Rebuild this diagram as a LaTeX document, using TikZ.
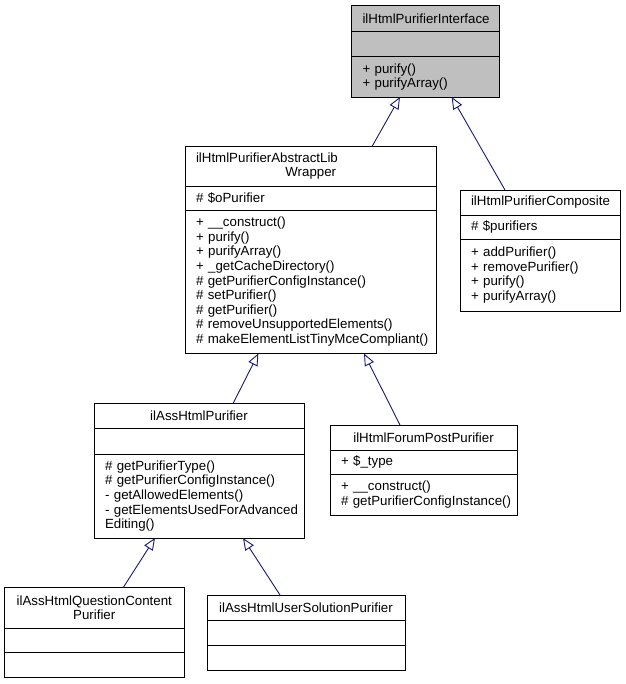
\documentclass[tikz,border=0pt]{standalone}
\usepackage{fontspec}
\setmainfont{Liberation Sans}
\usetikzlibrary{positioning,arrows.meta}
\definecolor{edgeblue}{HTML}{191970}
\definecolor{ifacegray}{HTML}{BFBFBF}
\newcommand{\umlfont}{\fontsize{13.3bp}{14.6bp}\selectfont\hyphenpenalty=10000 \exhyphenpenalty=10000 }
\tikzset{
  umlpart/.style={draw=black, line width=1bp, inner xsep=11bp, inner ysep=0bp,
    outer sep=0pt, text width=#1, align=left, font=\umlfont},
  umlhead/.style={umlpart=#1, align=center},
  inherit/.style={draw=edgeblue, line width=0.9bp,
    -{Triangle[open, length=12bp, width=10bp]}},
}
\begin{document}
\begin{tikzpicture}[x=1bp, y=-1bp, node distance=0pt]
\useasboundingbox (0,0) rectangle (626,684);

% interface
\node[umlhead=126bp, minimum height=25.5bp, fill=ifacegray, anchor=north] (iface-t) at (425.5,6) {ilHtmlPurifierInterface};
\node[umlpart=126bp, minimum height=25.5bp, fill=ifacegray, below=of iface-t] (iface-a) {};
\node[umlpart=126bp, minimum height=40bp, fill=ifacegray, below=of iface-a] (iface-m) {+ purify()\\+ purifyArray()};

% abstract lib wrapper
\node[umlpart=229.5bp, minimum height=39.5bp, anchor=north] (abslib-t) at (310.75,146.5) {ilHtmlPurifierAbstractLib\\\makebox[\linewidth]{Wrapper}};
\node[umlpart=229.5bp, minimum height=24bp, below=of abslib-t] (abslib-a) {\# \$oPurifier};
\node[umlpart=229.5bp, minimum height=143.5bp, below=of abslib-a] (abslib-m) {+ \_\_construct()\\+ purify()\\+ purifyArray()\\+ \_getCacheDirectory()\\\mbox{\# getPurifierConfigInstance()}\\\# setPurifier()\\\# getPurifier()\\\mbox{\# removeUnsupportedElements()}\\\mbox{\# makeElementListTinyMceCompliant()}};

% composite
\node[umlhead=138bp, minimum height=25bp, anchor=north] (comp-t) at (540,190) {ilHtmlPurifierComposite};
\node[umlpart=138bp, minimum height=24bp, below=of comp-t] (comp-a) {\# \$purifiers};
\node[umlpart=138bp, minimum height=72bp, below=of comp-a] (comp-m) {+ addPurifier()\\\mbox{+ removePurifier()}\\+ purify()\\+ purifyArray()};

% ass html purifier
\node[umlhead=188bp, minimum height=25bp, anchor=north] (ass-t) at (199,403) {ilAssHtmlPurifier};
\node[umlpart=188bp, minimum height=26bp, below=of ass-t] (ass-a) {};
\node[umlpart=188bp, minimum height=84bp, below=of ass-a] (ass-m) {\# getPurifierType()\\\mbox{\# getPurifierConfigInstance()}\\\mbox{- getAllowedElements()}\\\mbox{- getElementsUsedForAdvanced}\\Editing()};

% forum post purifier
\node[umlhead=165bp, minimum height=25bp, anchor=north] (forum-t) at (423.5,425) {ilHtmlForumPostPurifier};
\node[umlpart=165bp, minimum height=24bp, below=of forum-t] (forum-a) {+ \$\_type};
\node[umlpart=165bp, minimum height=41bp, below=of forum-a] (forum-m) {+ \_\_construct()\\\mbox{\# getPurifierConfigInstance()}};

% question content purifier
\node[umlhead=157.5bp, minimum height=40.5bp, anchor=north] (quest-t) at (94.25,587.5) {ilAssHtmlQuestionContent\\Purifier};
\node[umlpart=157.5bp, minimum height=24.5bp, below=of quest-t] (quest-a) {};
\node[umlpart=157.5bp, minimum height=24.5bp, below=of quest-a] (quest-m) {};

% user solution purifier
\node[umlhead=176bp, minimum height=25bp, anchor=north] (usol-t) at (306,595) {ilAssHtmlUserSolutionPurifier};
\node[umlpart=176bp, minimum height=25bp, below=of usol-t] (usol-a) {};
\node[umlpart=176bp, minimum height=25bp, below=of usol-a] (usol-m) {};

% inheritance
\draw[inherit] ([xshift=61.25bp]abslib-t.north) -- ([xshift=-25.5bp]iface-m.south);
\draw[inherit] ([xshift=-35bp]comp-t.north) -- ([xshift=26.2bp]iface-m.south);
\draw[inherit] ([xshift=34.3bp]ass-t.north) -- ([xshift=-52.4bp]abslib-m.south);
\draw[inherit] ([xshift=-23.5bp]forum-t.north) -- ([xshift=53.25bp]abslib-m.south);
\draw[inherit] ([xshift=29bp]quest-t.north) -- ([xshift=-44bp]ass-m.south);
\draw[inherit] ([xshift=-26bp]usol-t.north) -- ([xshift=44bp]ass-m.south);
\end{tikzpicture}
\end{document}
